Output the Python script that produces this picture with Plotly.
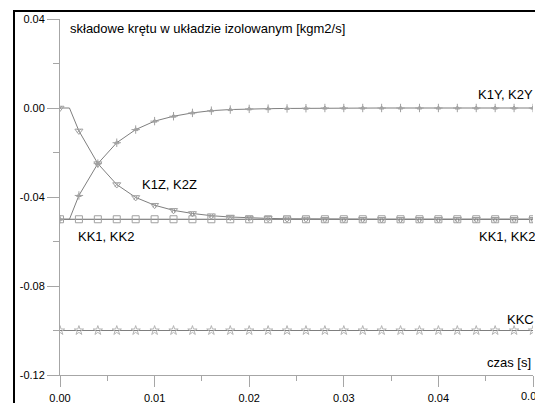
import plotly.graph_objects as go

# ---- data ----
t = [0.000, 0.002, 0.004, 0.006, 0.008, 0.010, 0.012, 0.014, 0.016, 0.018,
     0.020, 0.022, 0.024, 0.026, 0.028, 0.030, 0.032, 0.034, 0.036, 0.038,
     0.040, 0.042, 0.044, 0.046, 0.048, 0.050]

k1y = [-0.0500, -0.0393, -0.0250, -0.0156, -0.0097, -0.0059, -0.0037, -0.0022,
       -0.0012, -0.0007, -0.0004, -0.0003, -0.0002, -0.0001, 0.0, 0.0, 0.0, 0.0,
       0.0, 0.0, 0.0, 0.0, 0.0, 0.0, 0.0, 0.0]

k1z = [0.0, -0.0103, -0.0250, -0.0344, -0.0402, -0.0437, -0.0460, -0.0474,
       -0.0484, -0.0490, -0.0494, -0.0496, -0.0498, -0.0499, -0.0500, -0.0500,
       -0.0500, -0.0500, -0.0500, -0.0500, -0.0500, -0.0500, -0.0500, -0.0500,
       -0.0500, -0.0500]

kk1 = [-0.05] * 26
kkc = [-0.10] * 26

# start-up delay point (flat segment before the change)
t_delay = 0.001
k1y_delay = -0.05
k1z_delay = 0.0

x_tickvals = [0.00, 0.01, 0.02, 0.03, 0.04, 0.05]
x_ticktext = ["0.00", "0.01", "0.02", "0.03", "0.04", "0.05"]
y_tickvals = [0.04, 0.00, -0.04, -0.08, -0.12]
y_ticktext = ["0.04", "0.00", "-0.04", "-0.08", "-0.12"]

title_text = "składowe krętu w układzie izolowanym [kgm2/s]"

# ---- figure ----
LINE = "#7f7f7f"
AX = "#a6a6a6"
FONT = "Liberation Sans, Arial, sans-serif"

fig = go.Figure()

def line_with_delay(y, yd):
    return [t[0], t_delay] + t[1:], [y[0], yd] + y[1:]

# lines
fig.add_trace(go.Scatter(x=t, y=kkc, mode="lines", line=dict(color=LINE, width=1), hoverinfo="skip"))
fig.add_trace(go.Scatter(x=t, y=kk1, mode="lines", line=dict(color="#666666", width=1), hoverinfo="skip"))
lx, ly = line_with_delay(k1y, k1y_delay)
fig.add_trace(go.Scatter(x=lx, y=ly, mode="lines", line=dict(color=LINE, width=1), hoverinfo="skip"))
lx, ly = line_with_delay(k1z, k1z_delay)
fig.add_trace(go.Scatter(x=lx, y=ly, mode="lines", line=dict(color=LINE, width=1), hoverinfo="skip"))

# markers
fig.add_trace(go.Scatter(x=t, y=kkc, mode="markers",
                         marker=dict(symbol="star-open", size=7, color="#b4b4b4", line=dict(width=1))))
fig.add_trace(go.Scatter(x=t, y=kk1, mode="markers",
                         marker=dict(symbol="square-open", size=7, color="#a0a0a0", line=dict(width=1))))
fig.add_trace(go.Scatter(x=t, y=k1z, mode="markers",
                         marker=dict(symbol="triangle-down-open", size=7, color="#a0a0a0", line=dict(width=1))))
fig.add_trace(go.Scatter(x=t, y=k1z, mode="markers",
                         marker=dict(symbol="x-thin-open", size=4, color="#a0a0a0", line=dict(width=1))))
fig.add_trace(go.Scatter(x=t, y=k1y, mode="markers",
                         marker=dict(symbol="triangle-up-open", size=4, color="#a0a0a0", line=dict(width=1))))
fig.add_trace(go.Scatter(x=t, y=k1y, mode="markers",
                         marker=dict(symbol="cross-thin-open", size=6, color="#a0a0a0", line=dict(width=1))))

# page body has an 8px margin: the figure's top-left sits at (8, 8) in the window
OFF = 8
W, H = 543 - OFF, 403 - OFF
ml, mr, mt, mb = 60 - OFF, 10, 19 - OFF, 28
pw, ph = W - ml - mr, H - mt - mb

fig.update_layout(
    width=W, height=H,
    margin=dict(l=ml, r=mr, t=mt, b=mb, pad=0, autoexpand=False),
    paper_bgcolor="white", plot_bgcolor="white",
    showlegend=False,
    font=dict(family=FONT, size=11, color="black"),
)

fig.update_xaxes(
    range=[0, 0.05], tickvals=x_tickvals, ticktext=x_ticktext, automargin=False,
    showgrid=False, zeroline=False, showline=True, linecolor=AX, linewidth=1,
    ticks="outside", ticklen=11, tickcolor=AX, tickwidth=1,
    minor=dict(dtick=0.005, ticks="outside", ticklen=5, tickcolor=AX, tickwidth=1, showgrid=False),
    tickfont=dict(size=11, color="black"),
    ticklabelstandoff=2,
)
fig.update_yaxes(
    range=[-0.12, 0.04], tickvals=y_tickvals, ticktext=y_ticktext, automargin=False,
    showgrid=False, zeroline=False, showline=True, linecolor=AX, linewidth=1,
    ticks="outside", ticklen=12, tickcolor=AX, tickwidth=1,
    minor=dict(tickvals=[0.02, -0.02, -0.06, -0.10], ticks="outside", ticklen=6,
               tickcolor=AX, tickwidth=1, showgrid=False),
    tickfont=dict(size=11, color="black"),
)

# convert window pixel positions to paper fractions
def px_x(p):
    return (p - OFF - ml) / pw

def px_y(p):
    return (H - mb - (p - OFF)) / ph

# outer black frame (left and top edges visible)
fig.add_shape(type="rect", xref="paper", yref="paper",
              x0=px_x(14), x1=px_x(543 + 20), y0=px_y(403 + 20), y1=px_y(11),
              line=dict(color="black", width=2), layer="above")

def label(text, x, y, xanchor, size=13):
    fig.add_annotation(text=text, x=px_x(x), y=px_y(y), xref="paper", yref="paper",
                       xanchor=xanchor, yanchor="middle", showarrow=False,
                       font=dict(size=size, color="black"))

label(title_text, 68, 28, "left", 13)
label("K1Y, K2Y", 535, 95, "right")
label("K1Z, K2Z", 140, 184, "left")
label("KK1, KK2", 76, 236, "left")
label("KK1, KK2", 537, 236, "right")
label("KKC", 536, 319, "right")
label("czas [s]", 533, 362, "right")
# last x tick label sits at the right edge; plotly drops it, so place it explicitly
label(x_ticktext[-1], 544, 396, "right", 11)

fig.write_html("out.html")
